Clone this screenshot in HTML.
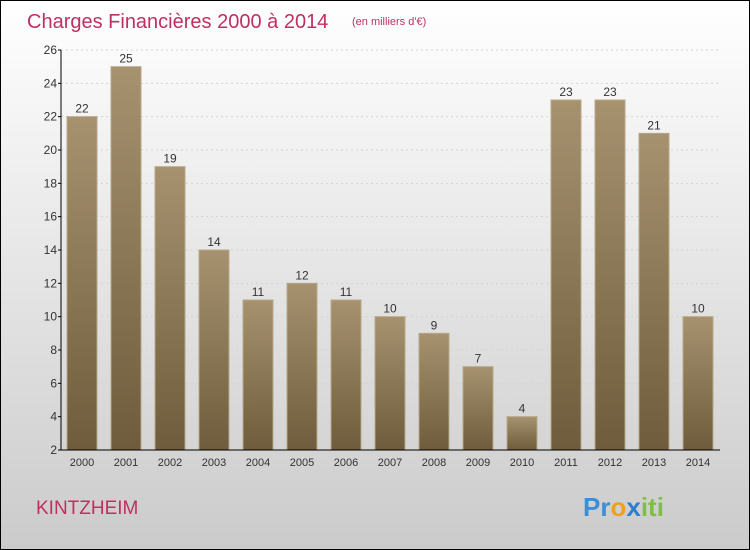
<!DOCTYPE html>
<html><head><meta charset="utf-8"><style>
body{margin:0;width:750px;height:550px;overflow:hidden;font-family:"Liberation Sans",sans-serif}
#wrap{position:absolute;left:0;top:0;width:748px;height:548px;border:1px solid #000;background:linear-gradient(#ffffff,#cbcbcb)}
</style></head><body>
<div id="wrap">
<svg id="chart" width="750" height="550" style="position:absolute;left:-1px;top:-1px">
<defs><linearGradient id="bg" x1="0" y1="0" x2="0" y2="1"><stop offset="0" stop-color="#a6926f"/><stop offset="1" stop-color="#6e5c3c"/></linearGradient></defs>
<text x="27" y="28" font-size="20" fill="#c0305e">Charges Financières 2000 à 2014</text>
<text x="352" y="25" font-size="11" fill="#c0305e">(en milliers d'€)</text>
<text x="36" y="514" font-size="19" fill="#c0305e">KINTZHEIM</text>
<text x="583" y="516" font-size="26" font-weight="bold"><tspan fill="#3a8fd6">Pr</tspan><tspan fill="#f0a020">o</tspan><tspan fill="#2b7fd0">x</tspan><tspan fill="#80c040">iti</tspan></text>
<g id="grid"></g><g id="bars"></g><g id="axes"></g>
</svg></div>
<script>
const categories=["2000","2001","2002","2003","2004","2005","2006","2007","2008","2009","2010","2011","2012","2013","2014"];
const values=[22,25,19,14,11,12,11,10,9,7,4,23,23,21,10];
const yTicks=[2,4,6,8,10,12,14,16,18,20,22,24,26];
const ns="http://www.w3.org/2000/svg";
const y0=450,y1=50,vmin=2,vmax=26,xLeft=61,x0=82,step=44,bw=30;
const Y=v=>y0-(v-vmin)*(y0-y1)/(vmax-vmin);
const X=i=>x0+i*step;
function mk(t,a,p){const e=document.createElementNS(ns,t);for(const k in a)e.setAttribute(k,a[k]);p.appendChild(e);return e;}
const grid=document.getElementById('grid'),bars=document.getElementById('bars'),axes=document.getElementById('axes');
yTicks.forEach(v=>{
 if(v>vmin){const g=mk('line',{x1:xLeft,x2:720,y1:Y(v),y2:Y(v),stroke:'#d4d4d4','stroke-dasharray':'2,3'},grid);
 
 }
 mk('line',{x1:xLeft-3,x2:xLeft,y1:Y(v),y2:Y(v),stroke:'#000'},axes);
 const t=mk('text',{x:xLeft-4,y:Y(v)+4,'font-size':12,'text-anchor':'end',fill:'#333'},axes);t.textContent=v;
 
 
});
values.forEach((v,i)=>{
 const r=mk('rect',{x:X(i)-bw/2,y:Y(v),width:bw,height:y0-Y(v),fill:'url(#bg)',stroke:'#b8a888','stroke-width':1},bars);
 
 
 const t=mk('text',{x:X(i),y:Y(v)-4,'font-size':12,'text-anchor':'middle',fill:'#333'},bars);t.textContent=v;
 
 
 const c=mk('text',{x:X(i),y:466,'font-size':11,'text-anchor':'middle',fill:'#333'},axes);c.textContent=categories[i];
 
 
});
const ya=mk('line',{x1:xLeft,x2:xLeft,y1:y1,y2:y0,stroke:'#000'},axes);


const xa=mk('line',{x1:xLeft,x2:720,y1:y0,y2:y0,stroke:'#000'},axes);


</script>
</body></html>
